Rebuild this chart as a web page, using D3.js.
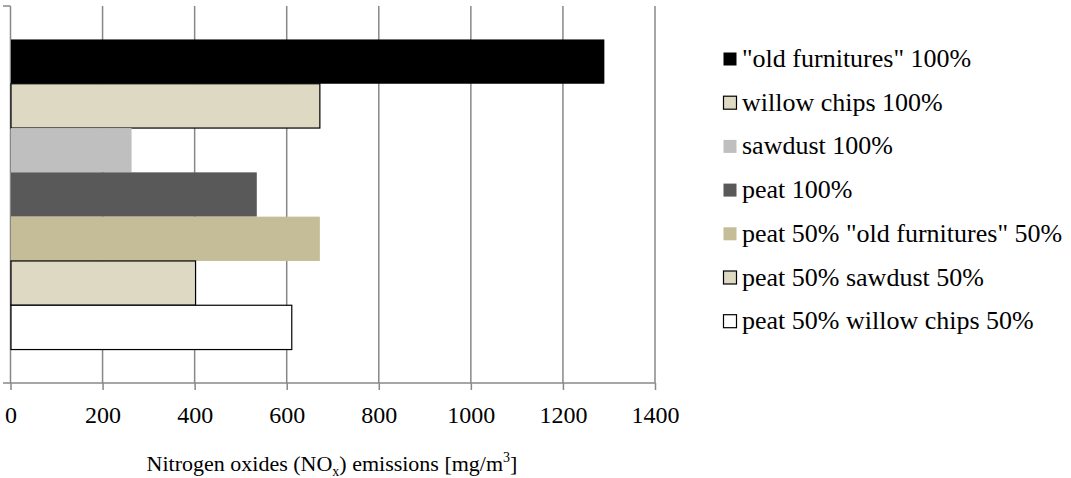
<!DOCTYPE html>
<html><head><meta charset="utf-8">
<script src="https://cdn.jsdelivr.net/npm/d3@7/dist/d3.min.js"></script>
</head><body style="margin:0;background:#fff"><svg id="c" width="1071" height="478" style="display:block;font-family:'Liberation Serif','Times New Roman',Times,serif"></svg>
<script>
const series = ['"old furnitures" 100%','willow chips 100%','sawdust 100%','peat 100%','peat 50% "old furnitures" 50%','peat 50% sawdust 50%','peat 50% willow chips 50%'];
const values = [1290, 672, 263, 535, 672, 402, 611];
const fills = ['#000000','#DDD9C3','#BFBFBF','#595959','#C4BD97','#DDD9C3','#FFFFFF'];
const strokes = ['none','#000000','none','none','none','#000000','#000000'];
const xTicks = [0,200,400,600,800,1000,1200,1400];

const FONT = "'Liberation Serif','Times New Roman',Times,serif";
const svg = d3.select('#c');
const L=10.5, R=655, T=6, B=383;
const x = d3.scaleLinear().domain([0,1400]).range([L,R]);
const y = d3.scaleBand().domain(series).range([T,B]).paddingInner(0).paddingOuter(0.755);
const grid='#888888';

// gridlines
svg.append('g').selectAll('line').data(xTicks.slice(1)).join('line')
  .attr('x1',d=>x(d)).attr('x2',d=>x(d)).attr('y1',T).attr('y2',B)
  .attr('stroke',grid).attr('stroke-width',1.5);

// x axis
const xa = svg.append('g').attr('transform',`translate(0,${B})`)
  .call(d3.axisBottom(x).tickValues(xTicks).tickFormat(d3.format('d')).tickSize(7).tickSizeOuter(0).tickPadding(16));
xa.attr('font-family',null).attr('font-size',null);
xa.select('.domain').attr('stroke',grid).attr('stroke-width',1.5).attr('d',`M3,0H${R}`);
xa.selectAll('.tick line').attr('stroke',grid).attr('stroke-width',1.5);
xa.selectAll('.tick text').style('font-family',FONT).style('font-size','24px').attr('fill','#000');

// y axis
svg.append('line').attr('x1',L).attr('x2',L).attr('y1',T).attr('y2',B).attr('stroke',grid).attr('stroke-width',1.5);
svg.append('line').attr('x1',3).attr('x2',L).attr('y1',T).attr('y2',T).attr('stroke',grid).attr('stroke-width',1.5);

// bars
svg.append('g').selectAll('rect').data(series).join('rect')
  .attr('x',x(0)+0.5).attr('y',d=>y(d))
  .attr('width',(d,i)=>x(values[i])-x(0)-0.5).attr('height',y.bandwidth())
  .attr('fill',(d,i)=>fills[i]).attr('stroke',(d,i)=>strokes[i]).attr('stroke-width',1.2);

// axis title
const t = svg.append('text').attr('x',332).attr('y',471).attr('text-anchor','middle')
  .style('font-family',FONT).style('font-size','22px');
t.append('tspan').text('Nitrogen oxides (NO');
t.append('tspan').text('x').style('font-size','14px').attr('dy',5);
t.append('tspan').text(') emissions [mg/m').attr('dy',-5);
t.append('tspan').text('3').style('font-size','14px').attr('dy',-9);
t.append('tspan').text(']').attr('dy',9);

// legend
const lg = svg.append('g').selectAll('g').data(series).join('g')
  .attr('transform',(d,i)=>`translate(723,${59+i*43.7})`);
lg.append('rect').attr('x',0.5).attr('y',-6.5).attr('width',13).attr('height',13)
  .attr('fill',(d,i)=>fills[i]).attr('stroke',(d,i)=>strokes[i]==='none'?'none':'#000').attr('stroke-width',1.2);
lg.append('text').attr('x',19).attr('y',8).style('font-family',FONT).style('font-size','26px').text(d=>d);
</script></body></html>
